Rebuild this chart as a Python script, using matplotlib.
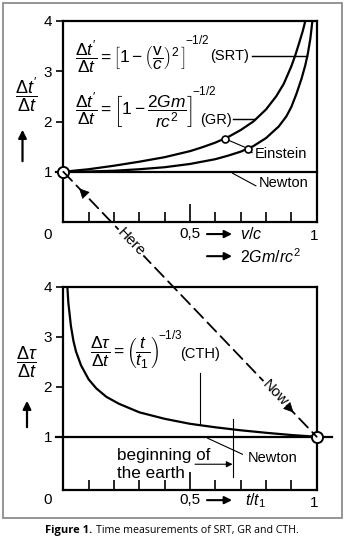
import numpy as np
import matplotlib
matplotlib.use('Agg')
import matplotlib.pyplot as plt
from matplotlib.patches import ConnectionPatch, Rectangle, FancyArrowPatch

plt.rcParams['font.family'] = ['Liberation Sans', 'DejaVu Sans']
plt.rcParams['mathtext.fontset'] = 'custom'
plt.rcParams['mathtext.rm'] = 'Liberation Sans'
plt.rcParams['mathtext.it'] = 'Liberation Sans:italic'
plt.rcParams['mathtext.bf'] = 'Liberation Sans:bold'

# --- Daten ---
# oben: GR (steilere Kurve), SRT
gr_x = [0, 0.1, 0.2, 0.3, 0.4, 0.5, 0.55, 0.6, 0.65, 0.7, 0.75, 0.8, 0.84, 0.87, 0.9, 0.915, 0.93, 0.945, 0.955]
gr_y = [1, 1.05, 1.12, 1.2, 1.29, 1.41, 1.49, 1.58, 1.69, 1.83, 2.0, 2.24, 2.5, 2.75, 3.1, 3.31, 3.55, 3.8, 4.0]
srt_x = [0, 0.1, 0.2, 0.3, 0.4, 0.5, 0.6, 0.65, 0.7, 0.75, 0.8, 0.85, 0.88, 0.9, 0.92, 0.94, 0.955, 0.965, 0.975, 0.983]
srt_y = [1, 1.005, 1.02, 1.05, 1.09, 1.155, 1.25, 1.32, 1.40, 1.51, 1.67, 1.9, 2.1, 2.29, 2.55, 2.85, 3.12, 3.35, 3.65, 4.0]
einstein_x = [0.637, 0.729]
einstein_y = [1.66, 1.46]
newton_y = 1.0

# unten: CTH
cth_x = [0.016, 0.02, 0.03, 0.04, 0.05, 0.07, 0.1, 0.13, 0.17, 0.22, 0.3, 0.4, 0.5, 0.6, 0.7, 0.8, 0.9, 1.0]
cth_y = [4.0, 3.68, 3.22, 2.92, 2.71, 2.43, 2.15, 1.97, 1.80, 1.66, 1.49, 1.36, 1.26, 1.19, 1.13, 1.08, 1.035, 1.0]
earth_x = 0.668      # Beginn der Erde
cth_mark_x = 0.54

y_ticks = [1, 2, 3, 4]
x_minor = [0.1, 0.2, 0.3, 0.4, 0.6, 0.7, 0.8, 0.9]

W, H = 347, 541
fig = plt.figure(figsize=(W / 100, H / 100), dpi=100)
renderer = fig.canvas.get_renderer()
inv = fig.transFigure.inverted()
LW = 1.6
THIN = 0.8
FS_F = 12.5   # Formeln

# Rahmen
fig.patches.append(Rectangle((3 / W, 1 - 518 / H), 339 / W, 515 / H, transform=fig.transFigure,
                             fill=False, ec='#8c8c8c', lw=1.3))

ax1 = fig.add_axes([63.3 / W, 1 - 222 / H, 253.4 / W, 201 / H])
ax2 = fig.add_axes([63.3 / W, 1 - 490 / H, 253.4 / W, 203 / H])


def style_axes(ax, ymin):
    ax.set_xlim(0, 1)
    ax.set_ylim(ymin, 4)
    for s in ax.spines.values():
        s.set_linewidth(LW)
    ax.set_yticks(y_ticks)
    ax.set_yticklabels([str(v) for v in y_ticks], fontsize=11)
    ax.tick_params(axis='y', direction='out', length=5, width=1.2, pad=3)
    ax.set_xticks(x_minor)
    ax.set_xticklabels([])
    ax.tick_params(axis='x', direction='in', length=7, width=1.2)
    ax.set_xticks([0.5], minor=True)
    ax.tick_params(axis='x', which='minor', direction='in', length=13, width=1.2)
    ax.patch.set_alpha(0)


def formula(ax, x, y, body, expo):
    # Exponent separat oben rechts an die Klammer setzen
    t = ax.text(x, y, body, fontsize=FS_F, ha='left', va='center')
    bb = t.get_window_extent(renderer)
    p = inv.transform((bb.x1 - 1, bb.y1 - 1))
    fig.text(p[0], p[1], expo, fontsize=8.5, ha='left', va='center')


style_axes(ax1, 0)
style_axes(ax2, -0.066)

# ---- oben ----
ax1.plot(gr_x, gr_y, color='black', lw=LW, solid_capstyle='butt')
ax1.plot(srt_x, srt_y, color='black', lw=LW, solid_capstyle='butt')
ax1.plot([-0.03, 1], [newton_y, newton_y], color='black', lw=LW, clip_on=False)
ax1.plot(einstein_x + [0.745], einstein_y + [1.38], color='black', lw=THIN)
ax1.plot(einstein_x, einstein_y, 'o', ms=5, mfc='white', mec='black', mew=1.2)
ax1.text(0.757, 1.36, 'Einstein', fontsize=10.5, va='center', ha='left')
ax1.plot([0.668, 0.76], [0.97, 0.72], color='black', lw=THIN)
ax1.text(0.771, 0.78, 'Newton', fontsize=10.5, va='center', ha='left')

formula(ax1, 0.045, 3.27,
        r'$\dfrac{\mathit{\Delta t^\prime}}{\mathit{\Delta t}}=\left[\mathit{1}-\left(\dfrac{\mathrm{v}}{c}\right)^{2}\,\right]$',
        r'$-\mathit{1/2}$')
formula(ax1, 0.045, 2.21,
        r'$\dfrac{\mathit{\Delta t^\prime}}{\mathit{\Delta t}}=\left[\mathit{1}-\dfrac{\mathit{2Gm}}{rc^{2}}\right]$',
        r'$-\mathit{1/2}$')
ax1.text(0.58, 3.31, '(SRT)', fontsize=10.5, va='center', ha='left')
ax1.plot([0.745, 0.963], [3.31, 3.31], color='black', lw=THIN * 1.3)
ax1.text(0.54, 2.03, '(GR)', fontsize=10.5, va='center', ha='left')
ax1.plot([0.668, 0.757], [2.04, 2.04], color='black', lw=THIN * 1.3)

xt1 = ax1.get_xaxis_transform()
ax1.text(-0.06, -0.065, '0', fontsize=11, ha='center', va='center', transform=xt1)
ax1.text(0.5, -0.06, '0,5', fontsize=11, ha='center', va='center', transform=xt1)
ax1.text(0.988, -0.07, '1', fontsize=11, ha='center', va='center', transform=xt1)
for yy, lab in [(-0.06, r'$v/c$'), (-0.17, r'$2Gm/rc^{2}$')]:
    ax1.annotate('', xy=(0.666, yy), xytext=(0.567, yy), xycoords=xt1, textcoords=xt1,
                 arrowprops=dict(arrowstyle='-|>', lw=1.5, color='black', mutation_scale=11,
                                 shrinkA=0, shrinkB=0), annotation_clip=False)
    ax1.text(0.697, yy, lab, fontsize=11.5, ha='left', va='center', transform=xt1)

# ---- unten ----
ax2.plot(cth_x, cth_y, color='black', lw=LW)
ax2.plot([-0.03, 1.06], [newton_y, newton_y], color='black', lw=LW, clip_on=False)
ax2.plot([cth_mark_x, cth_mark_x], [2.28, 1.26], color='black', lw=THIN)
ax2.plot([earth_x, earth_x], [1.36, 0.2], color='black', lw=THIN)
ax2.annotate('', xy=(earth_x, 0.45), xytext=(0.52, 0.45),
             arrowprops=dict(arrowstyle='-|>', lw=THIN, color='black', mutation_scale=9,
                             shrinkA=0, shrinkB=0))
ax2.text(0.213, 0.62, 'beginning of', fontsize=12.3, ha='left', va='center')
ax2.text(0.213, 0.27, 'the earth', fontsize=12.3, ha='left', va='center')
ax2.plot([0.57, 0.707], [0.97, 0.65], color='black', lw=THIN)
ax2.text(0.727, 0.58, 'Newton', fontsize=10.5, ha='left', va='center')
formula(ax2, 0.105, 2.69,
        r'$\dfrac{\mathit{\Delta}\tau}{\mathit{\Delta t}}=\left(\dfrac{t}{t_{1}}\right)$',
        r'$-\mathit{1/3}$')
ax2.text(0.462, 2.66, '(CTH)', fontsize=10.5, ha='left', va='center')

xt2 = ax2.get_xaxis_transform()
ax2.text(-0.06, -0.05, '0', fontsize=11, ha='center', va='center', transform=xt2)
ax2.text(0.5, -0.05, '0,5', fontsize=11, ha='center', va='center', transform=xt2)
ax2.text(0.988, -0.065, '1', fontsize=11, ha='center', va='center', transform=xt2)
ax2.annotate('', xy=(0.666, -0.05), xytext=(0.567, -0.05), xycoords=xt2, textcoords=xt2,
             arrowprops=dict(arrowstyle='-|>', lw=1.5, color='black', mutation_scale=11,
                             shrinkA=0, shrinkB=0), annotation_clip=False)
ax2.text(0.717, -0.05, r'$t/t_{1}$', fontsize=11.5, ha='left', va='center', transform=xt2)

# y-Achsenbeschriftungen
fig.text(26 / W, 1 - 95 / H, r'$\dfrac{\mathit{\Delta t^\prime}}{\mathit{\Delta t}}$', fontsize=13,
         ha='center', va='center')
fig.text(27 / W, 1 - 362 / H, r'$\dfrac{\mathit{\Delta}\tau}{\mathit{\Delta t}}$', fontsize=13,
         ha='center', va='center')
for x0, ytail, ytip in [(22.5, 164, 127), (27, 430, 398)]:
    fig.patches.append(FancyArrowPatch(
        (x0 / W, 1 - ytail / H), (x0 / W, 1 - ytip / H), transform=fig.transFigure,
        arrowstyle='-|>', mutation_scale=12, lw=1.6, color='black'))

# gestrichelte Verbindung Here -> Now
pA = ax1.transData.transform((0, 1))
pB = ax2.transData.transform((1, 1))
con = ConnectionPatch(xyA=(0, 1), coordsA=ax1.transData, xyB=(1, 1), coordsB=ax2.transData,
                      linestyle=(0, (7, 3.5)), lw=1.3, color='black', zorder=5)
fig.add_artist(con)
d = pB - pA
u = d / np.hypot(*d)
ang = np.degrees(np.arctan2(d[1], d[0]))
for frac, direction in [(0.055, -1), (0.916, 1)]:
    tip = pA + frac * d
    tail = tip - direction * u * 12
    fig.patches.append(FancyArrowPatch(inv.transform(tail), inv.transform(tip),
                                       transform=fig.transFigure, arrowstyle='-|>',
                                       mutation_scale=16, lw=0.5, color='black', zorder=6))
for frac, word in [(0.267, 'Here'), (0.835, 'Now')]:
    p = inv.transform(pA + frac * d)
    fig.text(p[0], p[1], word, fontsize=11, rotation=ang, rotation_mode='anchor',
             ha='center', va='center', zorder=7,
             bbox=dict(fc='white', ec='none', pad=1.0))

# Kreise
for ax, xy in [(ax1, (0, 1)), (ax2, (1, 1))]:
    ax.plot(*xy, 'o', ms=8, mfc='white', mec='black', mew=1.4, clip_on=False, zorder=10)
ax1.set_zorder(3)
ax2.set_zorder(3)

# Bildunterschrift
fig.text(45 / W, 1 - 531 / H, 'Figure 1.', fontsize=8.0, fontweight='bold',
         family=['Open Sans', 'DejaVu Sans'], ha='left', va='center')
fig.text(95.5 / W, 1 - 531 / H, 'Time measurements of SRT, GR and CTH.', fontsize=7.7,
         family=['Open Sans', 'DejaVu Sans'], ha='left', va='center')

fig.savefig('out.png', dpi=100)
